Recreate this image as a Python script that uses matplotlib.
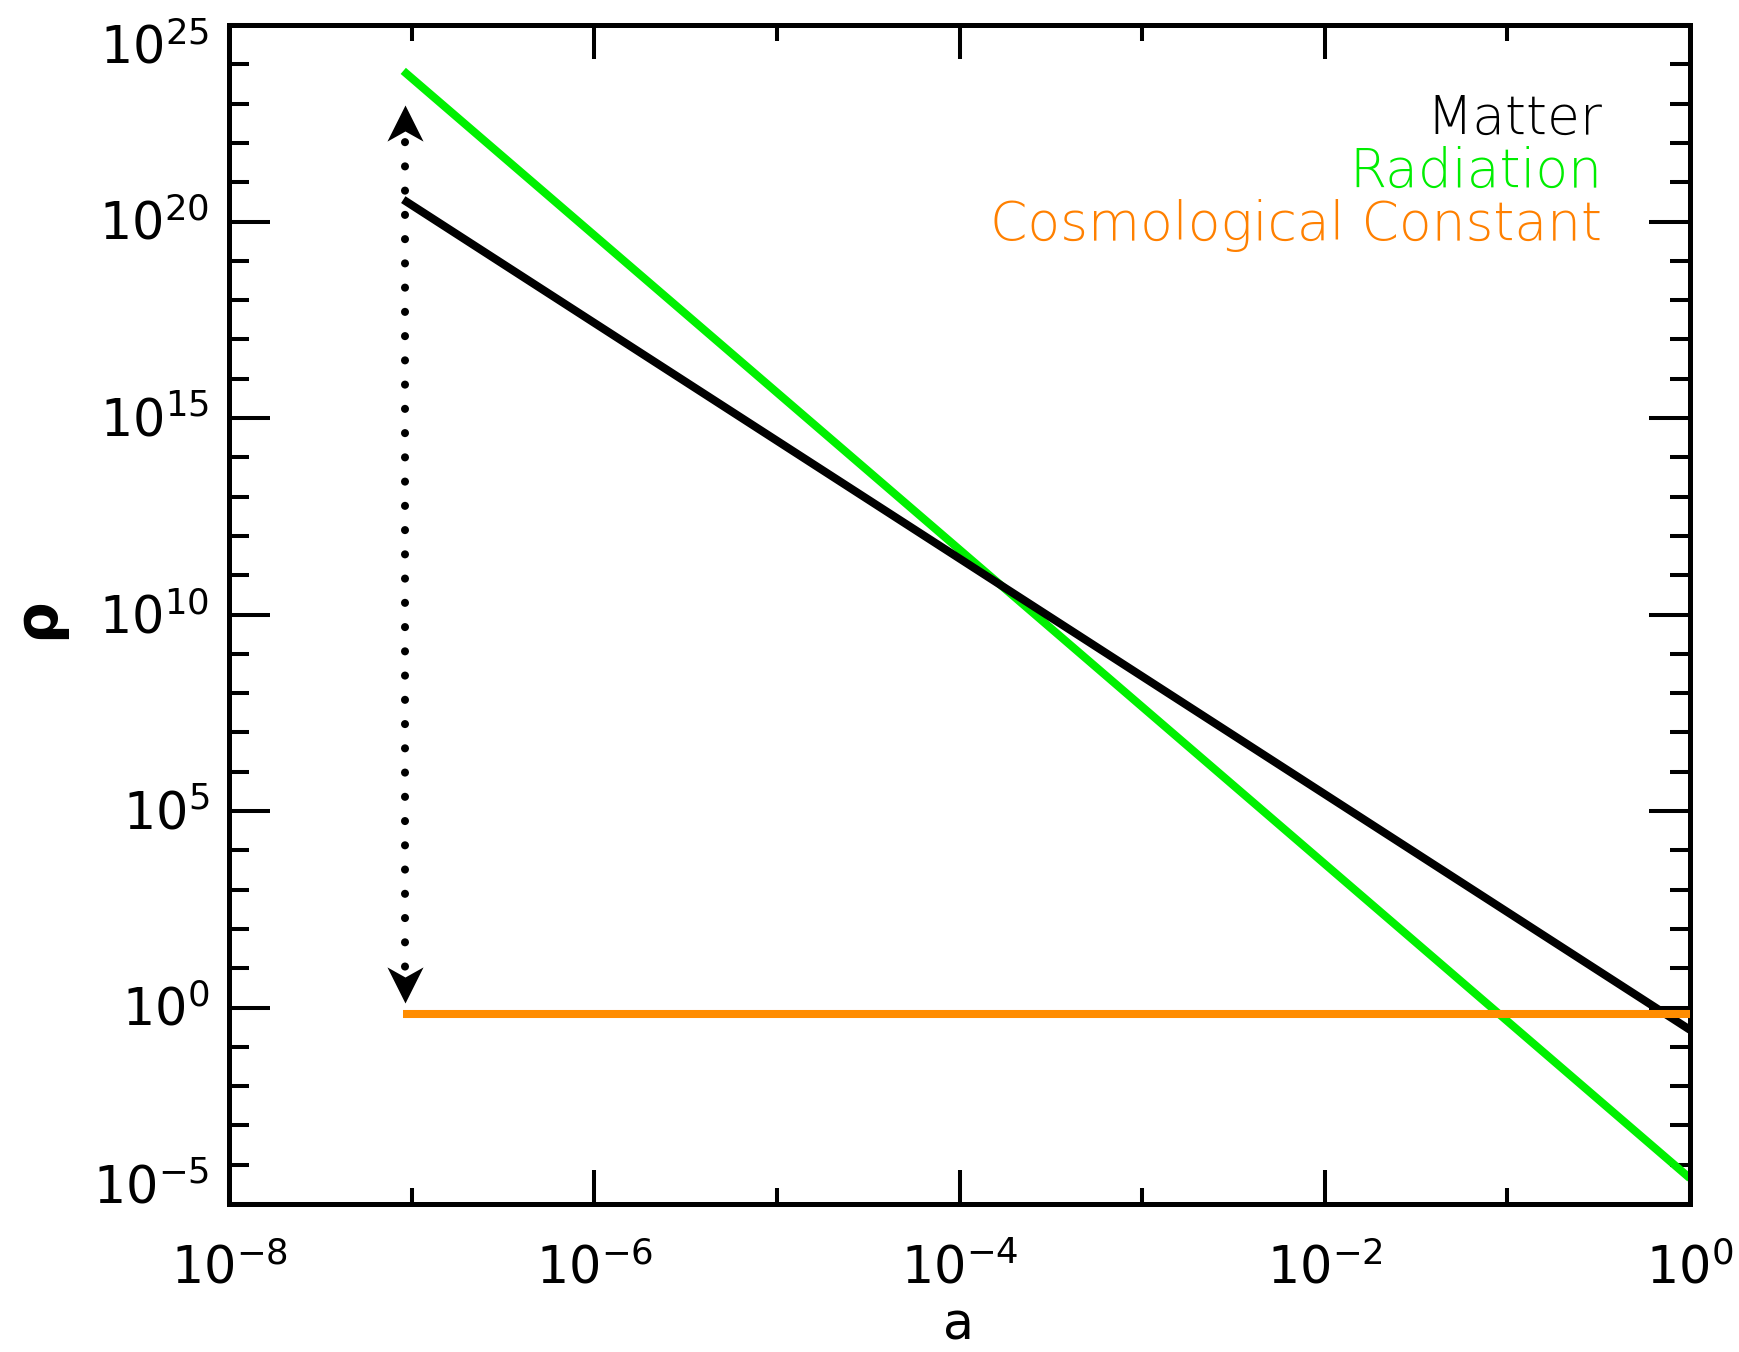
import numpy as np
import matplotlib
matplotlib.use('Agg')
from matplotlib import pyplot as plt
from matplotlib import transforms
from matplotlib.path import Path
from matplotlib.ticker import FixedLocator, NullFormatter

# density of each component vs scale factor (end points of the power laws)
a_vals = [9e-8, 1.0]
rho_matter = [3.6e20, 0.27]
rho_radiation = [6.8e23, 4.5e-5]
rho_lambda = [0.7, 0.7]

# dotted double arrow: gap between radiation and lambda at early times
arrow_a = 9.2e-8
arrow_rho = [1.3, 9e22]

legend_names = ['Matter', 'Radiation', 'Cosmological Constant']
legend_colors = ['black', '#00ee00', '#ff8000']

x_major = [1e-8, 1e-6, 1e-4, 1e-2, 1e0]
x_minor = [1e-7, 1e-5, 1e-3, 1e-1]
y_major_exp = [-5, 0, 5, 10, 15, 20, 25]
y_minor_exp = [e for e in range(-5, 26) if e % 5 != 0]

W, H = 1739, 1352
label_size = 36.5


def head_marker(up=True):
    # notched arrow head, tip at the origin
    s = 1 if up else -1
    verts = [(0, 0), (0.5, -s), (0, -0.72 * s), (-0.5, -s), (0, 0)]
    codes = [Path.MOVETO, Path.LINETO, Path.LINETO, Path.LINETO, Path.CLOSEPOLY]
    return Path(verts, codes)


def exp_label(e):
    return r'$\mathregular{10^{%d}}$' % e


def main():
    fig = plt.figure(figsize=(W / 100, H / 100), dpi=100)
    ax = fig.add_axes([229 / W, 1 - 1204 / H, (1690 - 229) / W, (1204 - 25) / H])
    ax.set_xscale('log')
    ax.set_yscale('log')
    ax.set_xlim(1e-8, 1e0)
    ax.set_ylim(1e-5, 1e25)

    lw = 5.8
    ax.plot(a_vals, rho_radiation, color='#00f000', lw=lw, solid_capstyle='butt', zorder=2)
    ax.plot(a_vals, rho_matter, color='black', lw=lw, solid_capstyle='butt', zorder=3)
    ax.plot(a_vals, rho_lambda, color='#ff8c00', lw=lw, solid_capstyle='butt', zorder=4)

    # dots start half a gap in, so the end dots hide under the heads
    ax.plot([arrow_a, arrow_a], arrow_rho, color='black', lw=5.8,
            linestyle=(1.5, (0.01, 3.0)), dash_capstyle='round', zorder=5)
    ax.plot([arrow_a], [arrow_rho[1]], marker=head_marker(True), ms=52,
            color='black', mew=0, zorder=6)
    ax.plot([arrow_a], [arrow_rho[0]], marker=head_marker(False), ms=52,
            color='black', mew=0, zorder=6)

    # axes frame and ticks
    for sp in ax.spines.values():
        sp.set_linewidth(3.6)
    ax.xaxis.set_major_locator(FixedLocator(x_major))
    ax.xaxis.set_minor_locator(FixedLocator(x_minor))
    ax.yaxis.set_major_locator(FixedLocator([10.0 ** e for e in y_major_exp]))
    ax.yaxis.set_minor_locator(FixedLocator([10.0 ** e for e in y_minor_exp]))
    for axis in [ax.xaxis, ax.yaxis]:
        axis.set_major_formatter(NullFormatter())
        axis.set_minor_formatter(NullFormatter())
    ax.tick_params(which='both', direction='in', top=True, right=True, width=2.9,
                   labelbottom=False, labelleft=False)
    ax.tick_params(axis='x', which='major', length=24.5)
    ax.tick_params(axis='x', which='minor', length=11.5)
    ax.tick_params(axis='y', which='major', length=29.5)
    ax.tick_params(axis='y', which='minor', length=14.4)

    # tick labels drawn by hand so the end labels can sit inside the frame
    ytrans = transforms.blended_transform_factory(ax.transAxes, ax.transData)
    for e in y_major_exp:
        if e == y_major_exp[-1]:
            dy = 0.38
        elif e == y_major_exp[0]:
            dy = 0.0
        else:
            dy = 0.185
        tr = ytrans + transforms.ScaledTranslation(-0.20, -dy, fig.dpi_scale_trans)
        ax.text(0, 10.0 ** e, exp_label(e), transform=tr, ha='right', va='baseline',
                fontsize=label_size, clip_on=False)

    xtrans = transforms.blended_transform_factory(ax.transData, ax.transAxes)
    for v in x_major:
        e = int(round(np.log10(v)))
        tr = xtrans + transforms.ScaledTranslation(0, -0.80, fig.dpi_scale_trans)
        ax.text(v, 0, exp_label(e), transform=tr, ha='center', va='baseline',
                fontsize=label_size, clip_on=False)

    fig.text(959 / W, 2 / H, 'a', ha='center', va='bottom', fontsize=label_size)
    fig.text(37 / W, 1 - 618 / H, '\u03c1', ha='center', va='center', rotation=90,
             fontsize=42, fontweight='bold')

    # legend as coloured text
    baselines = [134, 187, 240]
    for name, col, yb in zip(legend_names, legend_colors, baselines):
        fig.text(1602 / W, 1 - yb / H, name, ha='right', va='baseline', color=col,
                 fontsize=38.5, fontweight='light')

    fig.savefig('out.png', dpi=100)


if __name__ == '__main__':
    main()
